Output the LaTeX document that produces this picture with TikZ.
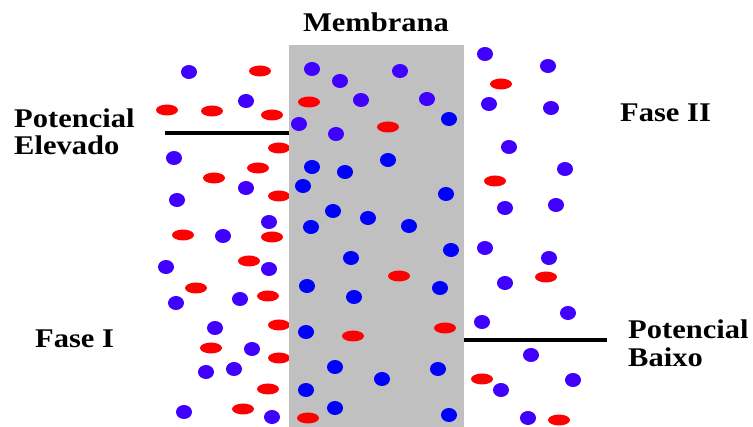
\documentclass[tikz,border=0pt]{standalone}
\usepackage{fontspec}
\setmainfont{Liberation Serif}
\usepackage{graphicx}
\definecolor{ionred}{RGB}{255,0,0}
\definecolor{ionpurple}{RGB}{64,0,255}
\definecolor{ionblue}{RGB}{0,0,255}
\definecolor{membgray}{RGB}{192,192,192}
\newcommand{\lbl}[1]{\scalebox{1.13}[1]{#1}}
\begin{document}
\begin{tikzpicture}[x=1pt,y=-1pt,
  lab/.style={inner sep=0pt,font=\fontsize{27}{27}\selectfont\bfseries},
  potline/.style={line width=3.5pt,black}]
\useasboundingbox (0,0) rectangle (753,427);
\fill[white] (0,0) rectangle (753,427);
% outside ions
\foreach \x/\y in {189/72,246/101,174/158,246/188,177/200,269/222,223/236,166/267,269/269,176/303,240/299,215/328,252/349,206/372,234/369,184/412,272/417,
  485/54,548/66,489/104,551/108,509/147,565/169,505/208,556/205,485/248,549/258,505/283,482/322,568/313,531/355,573/380,501/390,528/418}
  \fill[ionpurple] (\x,\y) ellipse [x radius=8pt, y radius=7pt];
\foreach \x/\y in {260/71,167/110,212/111,272/115,279/148,258/168,214/178,279/196,183/235,272/237,249/261,196/288,268/296,279/325,211/348,279/358,268/389,243/409,
  501/84,495/181,546/277,482/379,559/420}
  \fill[ionred] (\x,\y) ellipse [x radius=11pt, y radius=5.5pt];
% membrane
\fill[membgray] (289,45) rectangle (464,427);
\foreach \x/\y in {312/69,340/81,400/71,361/100,427/99,299/124,336/134}
  \fill[ionpurple] (\x,\y) ellipse [x radius=8pt, y radius=7pt];
\foreach \x/\y in {449/119,388/160,312/167,345/172,303/186,446/194,333/211,368/218,311/227,409/226,451/250,351/258,307/286,440/288,354/297,306/332,335/367,438/369,382/379,306/390,335/408,449/415}
  \fill[ionblue] (\x,\y) ellipse [x radius=8pt, y radius=7pt];
\foreach \x/\y in {309/102,388/127,399/276,445/328,353/336,308/418}
  \fill[ionred] (\x,\y) ellipse [x radius=11pt, y radius=5.5pt];
% potential lines
\coordinate (hiA) at (165,133);
\coordinate (hiB) at (289,133);
\coordinate (loA) at (464,340);
\coordinate (loB) at (607,340);
\draw[potline] (hiA) -- (hiB);
\draw[potline] (loA) -- (loB);
% labels
\node[lab,anchor=base] (memb) at (376,32) {\lbl{Membrana}};
\node[lab,anchor=base west] (pot1) at (14,128) {\lbl{Potencial}};
\node[lab,anchor=base west] (elev) at (14,155) {\lbl{Elevado}};
\node[lab,anchor=base west] (fase2) at (620,122) {\lbl{Fase II}};
\node[lab,anchor=base west] (fase1) at (35,348) {\lbl{Fase I}};
\node[lab,anchor=base west] (pot2) at (628,339) {\lbl{Potencial}};
\node[lab,anchor=base west] (baixo) at (628,367) {\lbl{Baixo}};
\end{tikzpicture}
\end{document}
